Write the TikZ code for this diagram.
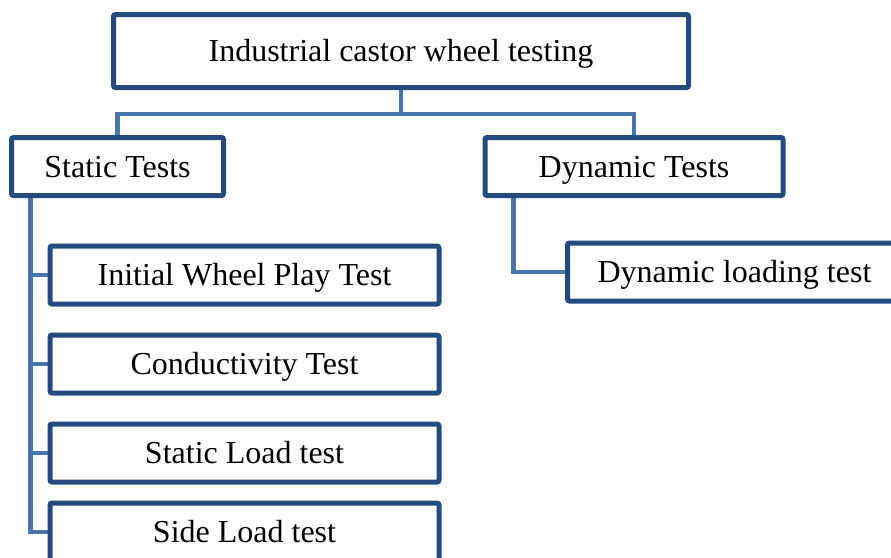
\documentclass[tikz,border=0pt]{standalone}
\usepackage{fontspec}
\setmainfont{Liberation Serif}
\usetikzlibrary{positioning,calc,backgrounds}
\definecolor{boxblue}{RGB}{36,75,126}
\definecolor{linkblue}{RGB}{72,118,172}
\tikzset{font=\fontsize{16}{19}\selectfont}

\begin{document}
\begin{tikzpicture}[x=0.5pt, y=-0.5pt]
	\path[use as bounding box, clip] (0,0) rectangle (891,558);
	\begin{scope}
		\tikzstyle{every node}=[align=center, inner sep=0pt, text height=10.5pt, text depth=0pt, draw=boxblue, line width=2.5pt, rounded corners=1pt, fill=white, minimum height=29pt]
		\tikzstyle{link}=[draw=linkblue, line width=2.2pt]
		\node[minimum width=287.5pt, minimum height=36.5pt] (t0) at (401, 51) {Industrial castor wheel testing};
		\node[minimum width=106pt] (s0) at (117.5, 166.5) {Static Tests};
		\node[minimum width=149pt] (d0) at (634, 166.5) {Dynamic Tests};
		\node[minimum width=167pt] (d1) at (734.5, 272) {Dynamic loading test};
		\node[minimum width=194.5pt] (s1) at (244.5, 275) {Initial Wheel Play Test};
		\node[minimum width=194.5pt] (s2) at (244.5, 364) {Conductivity Test};
		\node[minimum width=194.5pt] (s3) at (244.5, 453) {Static Load test};
		\node[minimum width=194.5pt] (s4) at (244.5, 532) {Side Load test};

		\begin{scope}[on background layer]
			\coordinate (bus) at (401, 114);
			\coordinate (sbus) at ($(s0.south west)+(21.5,0)$);
			\coordinate (dbus) at ($(d0.south west)+(31,0)$);
			\draw[link] (t0.south) -- (bus) -| (s0.north);
			\draw[link] (bus) -| (d0.north);
			\draw[link] (sbus) |- (s4.west);
			\foreach \n in {s1,s2,s3}
				\draw[link] (sbus |- \n.west) -- (\n.west);
			\draw[link] (dbus) |- (d1.west);
		\end{scope}
	\end{scope}
\end{tikzpicture}
\end{document}
